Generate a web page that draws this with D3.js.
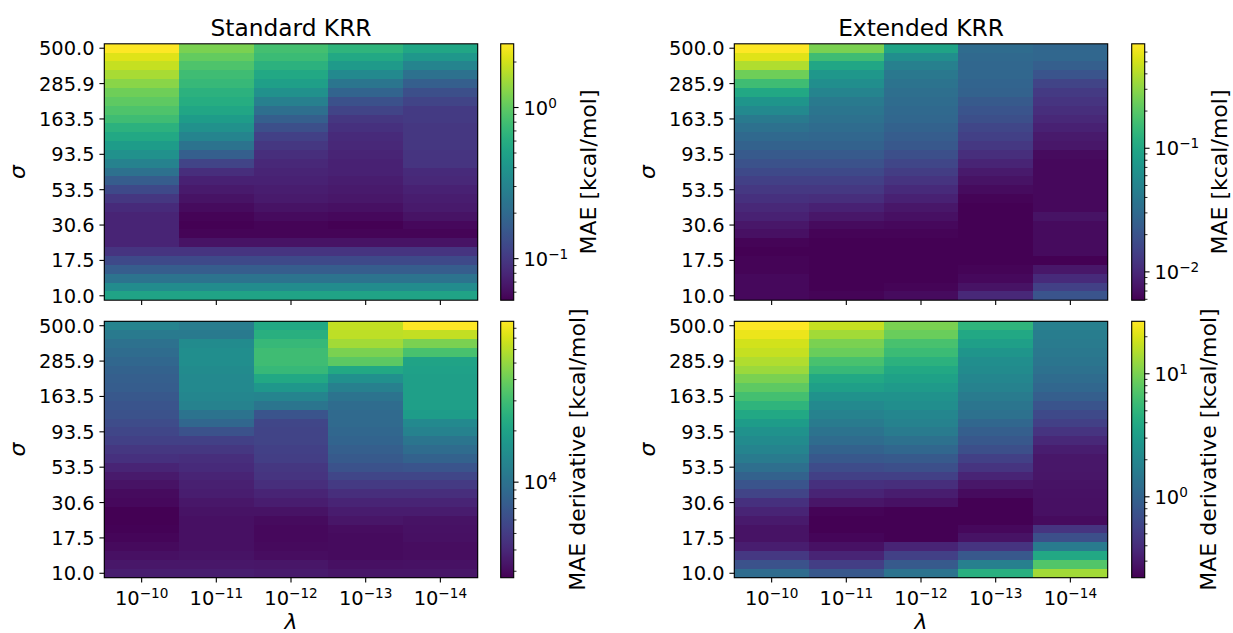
<!DOCTYPE html>
<html>
<head>
<meta charset="utf-8">
<script src="https://cdn.jsdelivr.net/npm/d3@7/dist/d3.min.js"></script>
<style>
  html, body { margin: 0; padding: 0; background: #ffffff; }
  svg text { font-family: "DejaVu Sans", sans-serif; fill: #000; }
</style>
</head>
<body>
<svg id="fig" width="1233" height="633"></svg>
<script>
// Kernel width sigma (rows, listed top to bottom) and regularisation exponent of lambda (columns)
const sigma = [500.0, 434.7, 378.0, 328.7, 285.94, 248.6, 216.2, 188.0, 163.51, 142.2,
               123.6, 107.5, 93.50, 81.30, 70.70, 61.48, 53.47, 46.49, 40.43, 35.16,
               30.58, 26.59, 23.12, 20.11, 17.49, 15.21, 13.22, 11.50, 10.00];
const sigmaTicks = [500.0, 285.94, 163.51, 93.50, 53.47, 30.58, 17.49, 10.00];
const lambdaExp = [-10, -11, -12, -13, -14];

// Standard KRR, MAE of energies [kcal/mol]; one array per lambda, rows follow `sigma`
const stdMAE = [
  [2.64, 2.17, 1.86, 1.59, 1.31, 1.12, 0.995, 0.885, 0.787, 0.647, 0.553, 0.455, 0.375, 0.296, 0.225, 0.165, 0.125, 0.0992, 0.0849, 0.0785, 0.0785, 0.0785, 0.0785, 0.0955, 0.125, 0.165, 0.234, 0.347, 0.512],
  [1.21, 1.035, 0.885, 0.787, 0.728, 0.647, 0.598, 0.532, 0.455, 0.375, 0.308, 0.234, 0.171, 0.116, 0.0882, 0.0755, 0.0698, 0.0645, 0.0597, 0.0552, 0.0531, 0.0552, 0.0645, 0.0955, 0.125, 0.165, 0.234, 0.347, 0.512],
  [0.818, 0.757, 0.647, 0.553, 0.473, 0.375, 0.285, 0.217, 0.171, 0.136, 0.112, 0.0992, 0.0882, 0.0816, 0.0785, 0.0755, 0.0726, 0.0698, 0.0645, 0.0597, 0.0552, 0.0552, 0.0645, 0.0955, 0.125, 0.165, 0.234, 0.347, 0.512],
  [0.673, 0.553, 0.438, 0.333, 0.244, 0.185, 0.141, 0.116, 0.0992, 0.0918, 0.0849, 0.0816, 0.0785, 0.0755, 0.0755, 0.0726, 0.0698, 0.0671, 0.0621, 0.0574, 0.0531, 0.0552, 0.0645, 0.0955, 0.125, 0.165, 0.234, 0.347, 0.512],
  [0.532, 0.421, 0.308, 0.225, 0.171, 0.136, 0.116, 0.103, 0.103, 0.0992, 0.0992, 0.0992, 0.0955, 0.0955, 0.0849, 0.0816, 0.0755, 0.0726, 0.0698, 0.0645, 0.0574, 0.0552, 0.0645, 0.0955, 0.125, 0.165, 0.234, 0.347, 0.512]
];

// Extended KRR, MAE of energies [kcal/mol]
const extMAE = [
  [0.700, 0.551, 0.395, 0.245, 0.159, 0.104, 0.0707, 0.0557, 0.0418, 0.0345, 0.0299, 0.0259, 0.0225, 0.0195, 0.0169, 0.0146, 0.0127, 0.0115, 0.00998, 0.00907, 0.00786, 0.00714, 0.00619, 0.0059, 0.00619, 0.00619, 0.00649, 0.00649, 0.00649],
  [0.269, 0.159, 0.0988, 0.0742, 0.0613, 0.0506, 0.0418, 0.0380, 0.0345, 0.0314, 0.0285, 0.0259, 0.0225, 0.0195, 0.0169, 0.0146, 0.0127, 0.0110, 0.00907, 0.00786, 0.00681, 0.00619, 0.0059, 0.0059, 0.0059, 0.0059, 0.0059, 0.0059, 0.00619],
  [0.0942, 0.0613, 0.0460, 0.0399, 0.0362, 0.0329, 0.0314, 0.0299, 0.0285, 0.0259, 0.0236, 0.0214, 0.0186, 0.0161, 0.0139, 0.0121, 0.0105, 0.00907, 0.00786, 0.00714, 0.00649, 0.00619, 0.0059, 0.0059, 0.0059, 0.0059, 0.0059, 0.00619, 0.00681],
  [0.0314, 0.0299, 0.0285, 0.0285, 0.0272, 0.0259, 0.0225, 0.0204, 0.0186, 0.0161, 0.0146, 0.0127, 0.0110, 0.00951, 0.00825, 0.00749, 0.00681, 0.00619, 0.0059, 0.0059, 0.0059, 0.0059, 0.0059, 0.0059, 0.0059, 0.00619, 0.00649, 0.00749, 0.00998],
  [0.0285, 0.0285, 0.0247, 0.0204, 0.0153, 0.0133, 0.0121, 0.0110, 0.00998, 0.00907, 0.00825, 0.00786, 0.00681, 0.00649, 0.00649, 0.00649, 0.00649, 0.00649, 0.00649, 0.00749, 0.00681, 0.00681, 0.00681, 0.00681, 0.0059, 0.00786, 0.0105, 0.0146, 0.0204]
];

// Standard KRR, MAE of derivatives [kcal/mol]
const stdDeriv = [
  [13060, 11380, 9910, 9240, 8620, 8050, 7770, 7510, 7000, 6770, 6540, 6100, 5690, 5310, 4780, 4460, 3890, 3500, 3270, 3050, 2950, 2750, 2750, 2800, 2890, 3000, 3160, 3380, 3630],
  [11780, 11380, 14500, 15020, 15020, 14500, 14010, 14010, 13530, 12620, 10250, 8620, 6540, 5310, 4780, 4310, 4170, 3890, 3750, 3630, 3380, 3270, 3160, 3160, 3160, 3160, 3270, 3380, 3630],
  [21980, 24390, 28020, 30030, 30030, 28020, 21980, 17250, 13060, 10620, 6770, 5690, 5500, 5500, 5310, 5130, 4780, 4620, 4310, 3890, 3630, 3270, 3050, 2950, 2950, 3000, 3100, 3330, 3500],
  [64360, 62160, 54110, 43950, 36960, 21980, 15540, 12200, 10250, 9240, 8930, 8930, 8620, 8330, 7770, 7250, 6540, 5690, 4950, 4310, 3890, 3560, 3330, 3100, 3050, 3050, 3050, 3160, 3330],
  [87900, 64360, 43950, 32180, 20510, 19810, 19130, 19130, 19130, 19130, 18490, 14010, 12620, 10620, 9240, 8050, 6770, 5690, 4950, 4310, 3890, 3560, 3270, 3210, 3160, 3100, 3100, 3210, 3330]
];

// Extended KRR, MAE of derivatives [kcal/mol]
const extDeriv = [
  [26.7, 23.2, 19.1, 17.4, 15.0, 13.0, 10.2, 8.05, 6.34, 4.99, 3.92, 3.09, 2.55, 2.20, 1.91, 1.58, 1.24, 0.975, 0.767, 0.575, 0.431, 0.356, 0.308, 0.280, 0.280, 0.323, 0.475, 0.731, 1.18],
  [17.4, 13.7, 10.2, 8.87, 6.65, 5.49, 3.92, 3.24, 2.55, 2.10, 1.82, 1.58, 1.36, 1.18, 0.975, 0.805, 0.664, 0.548, 0.431, 0.356, 0.287, 0.231, 0.22, 0.22, 0.237, 0.273, 0.356, 0.522, 0.805],
  [10.2, 8.87, 6.65, 5.76, 4.75, 3.92, 3.40, 2.94, 2.55, 2.31, 2.00, 1.82, 1.58, 1.30, 1.07, 0.844, 0.697, 0.548, 0.411, 0.323, 0.273, 0.22, 0.22, 0.22, 0.22, 0.356, 0.548, 0.844, 1.36],
  [4.99, 3.92, 3.24, 2.67, 2.31, 2.20, 2.00, 1.82, 1.58, 1.43, 1.30, 1.07, 0.929, 0.805, 0.697, 0.548, 0.452, 0.356, 0.294, 0.254, 0.22, 0.22, 0.22, 0.242, 0.280, 0.452, 0.805, 1.73, 4.53],
  [1.73, 1.65, 1.58, 1.50, 1.43, 1.30, 1.18, 1.07, 0.929, 0.767, 0.633, 0.548, 0.452, 0.373, 0.323, 0.294, 0.294, 0.287, 0.280, 0.273, 0.267, 0.267, 0.254, 0.452, 0.697, 1.58, 3.92, 7.32, 13.7]
];

const svg = d3.select("#fig");
const defs = svg.append("defs");

const PT = 100 / 72;               // pixels per point
const FS_TICK = 14 * PT;
const FS_LABEL = 22;
const FS_TITLE = 23.3;
const TICK_MAJOR = 3.5 * PT, TICK_MINOR = 2 * PT, TICK_PAD = 3.5 * PT;
const LW = 0.8 * PT;
const PW = 373.4, PH = 256.4, CBW = 13;
const CB_LABEL_PAD = 11;

// "10" with a raised exponent, as used for the lambda and colour-bar ticks
function powerLabel(text, exp, fs) {
  text.text(null);
  text.append("tspan").text("10");
  text.append("tspan")
      .attr("dy", -0.36 * fs)
      .attr("font-size", 0.7 * fs)
      .text(exp < 0 ? "\u2212" + Math.abs(exp) : String(exp));
}

const panels = [
  {data: stdMAE,   left: 104.3, top: 43.8,  cbLeft: 500.7,  title: "Standard KRR", cbLabel: "MAE [kcal/mol]",            xLabels: false},
  {data: extMAE,   left: 734.3, top: 43.8,  cbLeft: 1131.7, title: "Extended KRR", cbLabel: "MAE [kcal/mol]",            xLabels: false},
  {data: stdDeriv, left: 104.3, top: 321.3, cbLeft: 500.7,  title: null,           cbLabel: "MAE derivative [kcal/mol]", xLabels: true},
  {data: extDeriv, left: 734.3, top: 321.3, cbLeft: 1131.7, title: null,           cbLabel: "MAE derivative [kcal/mol]", xLabels: true}
];

panels.forEach((p, k) => {
  const x = d3.scaleBand().domain(lambdaExp).range([p.left, p.left + PW]);
  const y = d3.scaleBand().domain(sigma).range([p.top, p.top + PH]);
  const [vmin, vmax] = d3.extent(p.data.flat());
  const color = d3.scaleSequentialLog(d3.interpolateViridis).domain([vmin, vmax]);

  // heat-map cells
  const cells = p.data.flatMap((col, i) => col.map((v, j) => ({lam: lambdaExp[i], sig: sigma[j], v})));
  svg.append("g").selectAll("rect").data(cells).join("rect")
      .attr("x", d => x(d.lam))
      .attr("y", d => y(d.sig))
      .attr("width", x.bandwidth())
      .attr("height", y.bandwidth())
      .attr("fill", d => color(d.v))
      .attr("shape-rendering", "crispEdges");

  svg.append("rect")
      .attr("x", p.left).attr("y", p.top).attr("width", PW).attr("height", PH)
      .attr("fill", "none").attr("stroke", "#000").attr("stroke-width", LW);

  // sigma axis
  const ya = svg.append("g")
      .attr("transform", `translate(${p.left},0)`)
      .call(d3.axisLeft(y).tickValues(sigmaTicks).tickFormat(d3.format(".1f"))
              .tickSizeInner(TICK_MAJOR).tickSizeOuter(0).tickPadding(TICK_PAD))
      .attr("font-size", FS_TICK).attr("font-family", null);
  ya.select(".domain").remove();
  ya.selectAll(".tick line").attr("stroke", "#000").attr("stroke-width", LW);
  ya.selectAll(".tick text").attr("dy", "0.36em");

  // lambda axis
  const xa = svg.append("g")
      .attr("transform", `translate(0,${p.top + PH})`)
      .call(d3.axisBottom(x).tickSizeInner(TICK_MAJOR).tickSizeOuter(0).tickPadding(TICK_PAD))
      .attr("font-size", FS_TICK).attr("font-family", null);
  xa.select(".domain").remove();
  xa.selectAll(".tick line").attr("stroke", "#000").attr("stroke-width", LW);
  if (p.xLabels) {
    xa.selectAll(".tick text")
      .attr("y", 27.3).attr("dy", null)
      .each(function(d) { powerLabel(d3.select(this), d, FS_TICK); });
    svg.append("text")
      .attr("x", p.left + PW / 2).attr("y", 629)
      .attr("text-anchor", "middle").attr("font-size", FS_LABEL).attr("font-style", "italic")
      .text("\u03bb");
  } else {
    xa.selectAll(".tick text").remove();
  }

  svg.append("text")
      .attr("transform", `translate(${p.left - 79.3},${p.top + PH / 2}) rotate(-90)`)
      .attr("text-anchor", "middle").attr("font-size", FS_LABEL).attr("font-style", "italic")
      .text("\u03c3");

  if (p.title) {
    svg.append("text")
      .attr("x", p.left + PW / 2).attr("y", p.top - 8.3)
      .attr("text-anchor", "middle").attr("font-size", FS_TITLE)
      .text(p.title);
  }

  // colour bar
  const gid = "cbar" + k;
  const grad = defs.append("linearGradient").attr("id", gid)
      .attr("x1", 0).attr("y1", 1).attr("x2", 0).attr("y2", 0);
  d3.range(0, 65).forEach(i => {
    const t = i / 64;
    grad.append("stop").attr("offset", t).attr("stop-color", d3.interpolateViridis(t));
  });
  svg.append("rect")
      .attr("x", p.cbLeft).attr("y", p.top).attr("width", CBW).attr("height", PH)
      .attr("fill", `url(#${gid})`);
  svg.append("rect")
      .attr("x", p.cbLeft).attr("y", p.top).attr("width", CBW).attr("height", PH)
      .attr("fill", "none").attr("stroke", "#000").attr("stroke-width", LW);

  const cy = d3.scaleLog().domain([vmin, vmax]).range([p.top + PH, p.top]);
  const e0 = Math.floor(Math.log10(vmin)), e1 = Math.ceil(Math.log10(vmax));
  const major = [], minor = [];
  for (let e = e0; e <= e1; e++) {
    if (10 ** e >= vmin && 10 ** e <= vmax) major.push(e);
    for (let m = 2; m <= 9; m++) {
      const v = m * 10 ** e;
      if (v >= vmin && v <= vmax) minor.push(v);
    }
  }
  const cbRight = p.cbLeft + CBW;
  const cb = svg.append("g");
  cb.selectAll("line.minor").data(minor).join("line").attr("class", "minor")
      .attr("x1", cbRight).attr("x2", cbRight + TICK_MINOR)
      .attr("y1", d => cy(d)).attr("y2", d => cy(d))
      .attr("stroke", "#000").attr("stroke-width", 0.6 * PT);
  cb.selectAll("line.major").data(major).join("line").attr("class", "major")
      .attr("x1", cbRight).attr("x2", cbRight + TICK_MAJOR)
      .attr("y1", d => cy(10 ** d)).attr("y2", d => cy(10 ** d))
      .attr("stroke", "#000").attr("stroke-width", LW);
  const labels = cb.selectAll("text").data(major).join("text")
      .attr("x", cbRight + TICK_MAJOR + TICK_PAD)
      .attr("y", d => cy(10 ** d) + 0.36 * FS_TICK)
      .attr("font-size", FS_TICK)
      .each(function(d) { powerLabel(d3.select(this), d, FS_TICK); });

  let maxRight = cbRight + TICK_MAJOR + TICK_PAD;
  labels.each(function() { const b = this.getBBox(); maxRight = Math.max(maxRight, b.x + b.width); });
  svg.append("text")
      .attr("transform", `translate(${maxRight + CB_LABEL_PAD + 0.76 * FS_LABEL},${p.top + PH / 2}) rotate(-90)`)
      .attr("text-anchor", "middle").attr("font-size", FS_LABEL)
      .text(p.cbLabel);
});
</script>
</body>
</html>
